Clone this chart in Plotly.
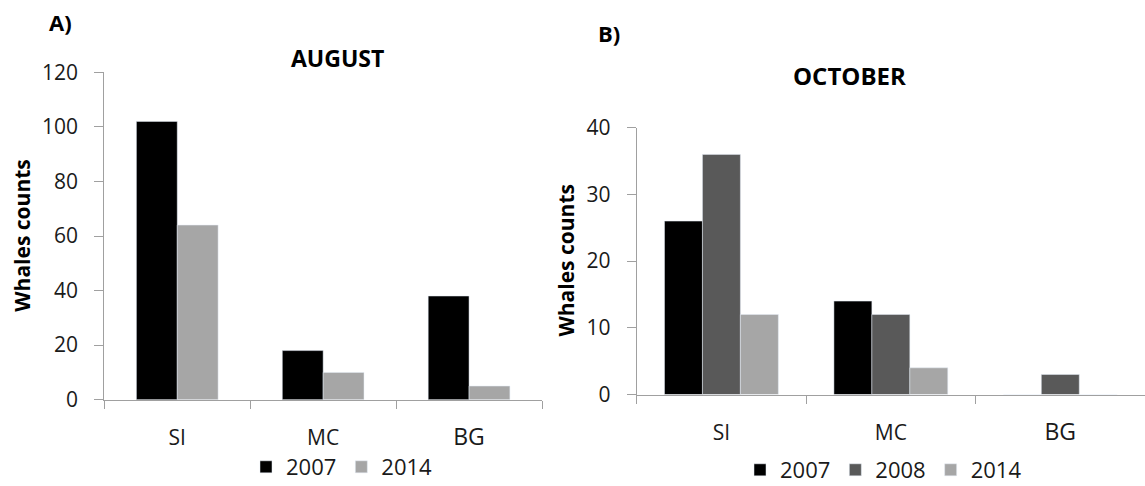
import plotly.graph_objects as go

W, H = 1145, 486

categories = ["SI", "MC", "BG"]
cat_ticktext = ["SI", "MC", "<span style='font-size:23px'>BG</span>"]

aug_2007 = [102, 18, 38]
aug_2014 = [64, 10, 5]

oct_2007 = [26, 14, 0]
oct_2008 = [36, 12, 3]
oct_2014 = [12, 4, 0]

C2007 = "#000000"
C2008 = "#595959"
C2014 = "#a6a6a6"
AX = "#a0a0a0"
TXT = "#1a1a1a"
FONT = "Open Sans"


def px(x):
    return x / W


def py(y):
    return 1 - y / H


fig = go.Figure()

# August (left)
wl = 0.28
fig.add_trace(go.Bar(x=categories, y=aug_2007, name="2007", marker_color=C2007,
                     width=wl, offset=-wl, xaxis="x", yaxis="y", legend="legend"))
fig.add_trace(go.Bar(x=categories, y=aug_2014, name="2014", marker_color=C2014,
                     width=wl, offset=0, xaxis="x", yaxis="y", legend="legend"))

# October (right)
wr = 0.224
fig.add_trace(go.Bar(x=categories, y=oct_2007, name="2007", marker_color=C2007,
                     width=wr, offset=-1.5 * wr, xaxis="x2", yaxis="y2", legend="legend2"))
fig.add_trace(go.Bar(x=categories, y=oct_2008, name="2008", marker_color=C2008,
                     width=wr, offset=-0.5 * wr, xaxis="x2", yaxis="y2", legend="legend2"))
fig.add_trace(go.Bar(x=categories, y=oct_2014, name="2014", marker_color=C2014,
                     width=wr, offset=0.5 * wr, xaxis="x2", yaxis="y2", legend="legend2"))

xcommon = dict(type="category", range=[-0.5, 2.5], showline=True, linecolor=AX, linewidth=1,
               ticks="outside", tickson="boundaries", ticklen=8, tickcolor=AX, tickwidth=1,
               showgrid=False, zeroline=False, tickmode="array", tickvals=categories,
               ticktext=cat_ticktext, tickfont=dict(family=FONT, size=21, color=TXT),
               ticklabelstandoff=19, fixedrange=True, automargin=False)
ycommon = dict(showline=True, linecolor=AX, linewidth=1, ticks="outside", ticklen=9,
               tickcolor=AX, tickwidth=1, showgrid=False, zeroline=False,
               tickfont=dict(family=FONT, size=21, color=TXT), ticklabelstandoff=12,
               automargin=False, fixedrange=True)

fig.update_layout(
    width=W, height=H,
    margin=dict(l=0, r=0, t=0, b=0, autoexpand=False),
    paper_bgcolor="white", plot_bgcolor="white",
    font=dict(family=FONT, color=TXT),
    barmode="overlay",
    hovermode=False,
    xaxis=dict(domain=[px(104.3), px(542)], anchor="y", **xcommon),
    yaxis=dict(domain=[py(399.7), py(72.3)], anchor="x", range=[0, 120], dtick=20, **ycommon),
    xaxis2=dict(domain=[px(636.7), 1.0], anchor="y2", **xcommon),
    yaxis2=dict(domain=[py(394.5), py(127.7)], anchor="x2", range=[0, 40], dtick=10, **ycommon),
    legend=dict(orientation="h", x=px(246), xanchor="left", y=py(467), yanchor="middle",
                font=dict(family=FONT, size=22, color=TXT), itemwidth=30,
                bgcolor="rgba(0,0,0,0)", traceorder="normal"),
    legend2=dict(orientation="h", x=px(740), xanchor="left", y=py(470), yanchor="middle",
                 font=dict(family=FONT, size=22, color=TXT), itemwidth=30,
                 bgcolor="rgba(0,0,0,0)", traceorder="normal"),
    showlegend=True,
)

ann = [
    dict(text="<b>A)</b>", x=px(60), y=py(22), size=22, angle=0),
    dict(text="<b>AUGUST</b>", x=px(337), y=py(58), size=23, angle=0),
    dict(text="<b>B)</b>", x=px(609), y=py(33), size=22, angle=0),
    dict(text="<b>OCTOBER</b>", x=px(849.5), y=py(75), size=24, angle=0),
    dict(text="<b>Whales counts</b>", x=px(21.7), y=py(236), size=21, angle=-90),
    dict(text="<b>Whales counts</b>", x=px(565.5), y=py(261), size=21, angle=-90),
]
for a in ann:
    fig.add_annotation(text=a["text"], x=a["x"], y=a["y"], xref="paper", yref="paper",
                       xanchor="center", yanchor="middle", showarrow=False,
                       textangle=a["angle"], font=dict(family=FONT, size=a["size"], color="#000000"))

fig.write_html("out.html", config={"displayModeBar": False, "staticPlot": True},
               post_script="document.body.style.margin='0';document.body.style.overflow='hidden';")
